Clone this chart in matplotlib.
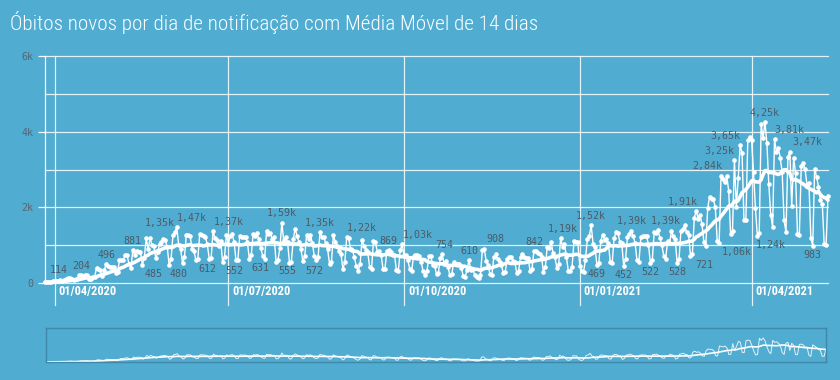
import matplotlib
matplotlib.use('Agg')
import matplotlib.pyplot as plt
import matplotlib.transforms as mtransforms
from matplotlib import font_manager
from matplotlib.font_manager import FontProperties
import pandas as pd

# óbitos novos por dia (Brasil), a partir de 27/03/2020
start_date = '2020-03-27'
deaths = [
    15, 22,
    22, 23, 42, 40, 58, 60, 73,              # 29/03
    54, 67, 114, 133, 141, 115, 68,          # 05/04
    99, 105, 204, 204, 188, 217, 206,        # 12/04
    115, 113, 166, 165, 407, 357, 346,       # 19/04
    189, 338, 496, 449, 435, 428, 421,       # 26/04
    275, 296, 600, 615, 610, 751, 730,       # 03/05
    496, 396, 881, 749, 844, 824, 816,       # 10/05
    485, 674, 1179, 888, 1188, 1001, 965,    # 17/05
    653, 807, 1039, 1086, 1156, 1124, 956,   # 24/05
    480, 623, 1262, 1349, 1473, 1005, 904,   # 31/05
    525, 679, 1272, 1274, 1239, 909, 843,    # 07/06
    612, 627, 1282, 1269, 1238, 1206, 1022,  # 14/06
    641, 654, 1374, 1185, 1141, 990, 1109,   # 21/06
    552, 692, 1280, 1038, 1252, 1290, 1091,  # 28/06
    602, 620, 1254, 1223, 1220, 1214, 1071,  # 05/07
    631, 733, 1300, 1233, 1322, 1163, 921,   # 12/07
    716, 632, 1367, 1284, 1311, 1156, 1211,  # 19/07
    555, 614, 921, 1595, 1129, 1212, 1088,   # 26/07
    541, 561, 1154, 1437, 1237, 1079, 905,   # 02/08
    572, 703, 1274, 1175, 1262, 1060, 709,   # 09/08
    620, 684, 1352, 1212, 1204, 1054, 892,   # 16/08
    494, 565, 1271, 1085, 984, 855, 758,     # 23/08
    366, 553, 1215, 1184, 888, 863, 682,     # 30/08
    447, 310, 504, 1136, 983, 874, 814,      # 06/09
    415, 381, 1113, 1075, 829, 858, 739,     # 13/09
    377, 377, 836, 869, 831, 729, 748,       # 20/09
    335, 317, 863, 1031, 729, 728, 599,      # 27/09
    366, 322, 709, 734, 730, 720, 543,       # 04/10
    309, 201, 311, 706, 713, 485, 461,       # 11/10
    230, 271, 664, 754, 497, 571, 432,       # 18/10
    201, 231, 549, 510, 496, 510, 395,       # 25/10
    190, 162, 342, 610, 335, 368, 215,       # 01/11
    154, 127, 201, 870, 908, 589, 470,       # 08/11
    241, 216, 676, 754, 639, 559, 465,       # 15/11
    274, 302, 630, 698, 691, 587, 554,       # 22/11
    272, 317, 697, 755, 694, 674, 664,       # 29/11
    313, 376, 842, 836, 797, 770, 686,       # 06/12
    279, 433, 964, 936, 1092, 795, 683,      # 13/12
    400, 491, 1194, 963, 1041, 694, 325,     # 20/12
    314, 431, 1111, 1074, 1075, 462, 314,    # 27/12
    293, 620, 1171, 1242, 1524, 1035, 960,   # 03/01
    469, 536, 1110, 1274, 1131, 1151, 1050,  # 10/01
    551, 530, 1183, 1340, 1316, 1096, 1054,  # 17/01
    452, 627, 1214, 1283, 1386, 1235, 1050,  # 24/01
    595, 549, 1209, 1239, 1232, 1239, 1010,  # 31/01
    522, 617, 1350, 1330, 1390, 1189, 1000,  # 07/02
    713, 639, 1109, 1045, 1367, 1254, 1155,  # 14/02
    528, 639, 1386, 1428, 1541, 1337, 1275,  # 21/02
    721, 778, 1726, 1910, 1699, 1800, 1555,  # 28/02
    1086, 987, 1972, 2286, 2233, 2216, 1997, # 07/03
    1111, 1060, 2841, 2736, 2659, 2815, 2438,  # 14/03
    1290, 1383, 3251, 2009, 2777, 3650, 3438,  # 21/03
    1656, 1660, 3780, 3869, 3769, 2922, 1987,  # 28/03
    1240, 1319, 4195, 3829, 4249, 3693, 2616,  # 04/04
    1803, 1480, 3808, 3459, 3560, 3305, 2929,  # 11/04
    1657, 1347, 3321, 3472, 2027, 3305, 2914,  # 18/04
    1305, 1279, 3086, 3163, 3001, 2595, 2656,  # 25/04
    1202, 983, 3025, 2811, 2550, 2202, 2091,   # 02/05
    1024, 1004, 2311,                          # 09/05
]
assert len(deaths) == 411, len(deaths)

# rótulos de pico (acima) e de vale (abaixo): data onde aparece o rótulo, valor
top_label_dates = ['2020-04-03', '2020-04-15', '2020-04-28', '2020-05-12', '2020-05-26',
                   '2020-06-12', '2020-07-01', '2020-07-29', '2020-08-18', '2020-09-09',
                   '2020-09-23', '2020-10-08', '2020-10-22', '2020-11-04', '2020-11-18',
                   '2020-12-08', '2020-12-23', '2021-01-07', '2021-01-28', '2021-02-15',
                   '2021-02-24', '2021-03-09', '2021-03-15', '2021-03-18', '2021-04-08',
                   '2021-04-21', '2021-04-30']
top_label_values = [114, 204, 496, 881, 1349, 1473, 1374, 1595, 1352, 1215, 869, 1031, 754,
                    610, 908, 842, 1194, 1524, 1386, 1390, 1910, 2841, 3251, 3650, 4249,
                    3808, 3472]
low_label_dates = ['2020-05-23', '2020-06-05', '2020-06-20', '2020-07-04', '2020-07-18',
                   '2020-08-01', '2020-08-15', '2021-01-10', '2021-01-24', '2021-02-07',
                   '2021-02-21', '2021-03-07', '2021-03-24', '2021-04-11', '2021-05-03']
low_label_values = [485, 480, 612, 552, 631, 555, 572, 469, 452, 522, 528, 721, 1060, 1240, 983]

tick_dates = ['2020-04-01', '2020-07-01', '2020-10-01', '2021-01-01', '2021-04-01']
tick_labels = ['01/04/2020', '01/07/2020', '01/10/2020', '01/01/2021', '01/04/2021']
y_ticks = [0, 2000, 4000, 6000]
y_tick_labels = ['0', '2k', '4k', '6k']

title = 'Óbitos novos por dia de notificação com Média Móvel de 14 dias'

BG = '#50acd1'
LABEL_C = '#4a5c68'
MONO = 'DejaVu Sans Mono'


def pick_font(bold):
    # procura uma fonte estreita (condensed/narrow) instalada
    prefs = ['Roboto Condensed', 'Liberation Sans Narrow', 'DejaVu Sans Condensed',
             'Open Sans Condensed', 'Noto Sans Condensed']
    found = []
    for f in font_manager.fontManager.ttflist:
        nm = (f.name + ' ' + str(f.fname)).lower()
        if not ('condensed' in nm or 'narrow' in nm or f.stretch in ('condensed', 'semi-condensed')):
            continue
        if 'italic' in nm or 'oblique' in nm or f.style != 'normal':
            continue
        w = f.weight if isinstance(f.weight, int) else 400
        is_bold = w >= 600
        if is_bold != bold:
            continue
        rank = len(prefs)
        for i, p in enumerate(prefs):
            if p.lower().split()[0] in nm:
                rank = i
                break
        light_bonus = 0 if (bold or 300 <= w <= 400) else 1
        found.append((rank, light_bonus, abs(w - (700 if bold else 300)), f.fname))
    if found:
        found.sort()
        return FontProperties(fname=found[0][3])
    return FontProperties(family='Roboto', weight='bold' if bold else 'light')


def fmt(v):
    if v < 1000:
        return str(v)
    return f'{v / 1000:.2f}'.replace('.', ',') + 'k'


dates = pd.date_range(start_date, periods=len(deaths), freq='D')
serie = pd.Series(deaths, index=dates)
media = serie.rolling(14, min_periods=1).mean()

fig = plt.figure(figsize=(8.4, 3.8), dpi=100, facecolor=BG)
W, H = 840, 380
ax = fig.add_axes([45 / W, 97 / H, 783 / W, 227 / H], facecolor=BG)

for v in range(0, 7000, 1000):
    ax.axhline(v, color='white', lw=0.9, alpha=0.85, zorder=1, clip_on=False)
for d in tick_dates:
    ax.axvline(pd.Timestamp(d), ymin=-22 / 227, ymax=1, color='white', lw=0.9,
               alpha=0.85, zorder=1, clip_on=False)

ax.plot(dates, serie.values, color='white', lw=1.0, marker='o', ms=2.3, zorder=3,
        clip_on=False)
ax.plot(dates, media.values, color='white', lw=2.6, zorder=4, solid_capstyle='round',
        clip_on=False)

for d, v in zip(top_label_dates, top_label_values):
    ax.annotate(fmt(v), xy=(pd.Timestamp(d), v), xytext=(0, 3), textcoords='offset points',
                ha='center', va='bottom', fontsize=7.2, family=MONO, color=LABEL_C, zorder=5)
for d, v in zip(low_label_dates, low_label_values):
    ax.annotate(fmt(v), xy=(pd.Timestamp(d), v), xytext=(0, -3), textcoords='offset points',
                ha='center', va='top', fontsize=7.2, family=MONO, color=LABEL_C, zorder=5)

ax.set_xlim(dates[0], dates[-1])
ax.set_ylim(0, 6000)
ax.set_yticks(y_ticks)
ax.set_yticklabels(y_tick_labels, family=MONO, fontsize=7.2, color='#566873')
ax.tick_params(axis='y', length=5, width=0.9, color='white', pad=3.5)
ax.set_xticks([])
for name, sp in ax.spines.items():
    sp.set_visible(name == 'left')
ax.spines['left'].set_color('white')
ax.spines['left'].set_linewidth(0.9)

renderer = fig.canvas.get_renderer()


def fit_width(txt, target_px):
    w = txt.get_window_extent(renderer).width
    txt.set_fontsize(txt.get_fontsize() * target_px / w)


bold_fp = pick_font(True)
base = ax.get_xaxis_transform()
off = mtransforms.ScaledTranslation(4 / 100, -9 / 100, fig.dpi_scale_trans)
xt = []
for d, lab in zip(tick_dates, tick_labels):
    t = ax.text(pd.Timestamp(d), 0, lab, transform=base + off, ha='left', va='center',
                fontproperties=bold_fp, fontsize=9, color='white')
    if bold_fp.get_family() == ['Roboto']:
        t.set_fontweight('bold')
    xt.append(t)
fit_width(xt[0], 58)
for t in xt[1:]:
    t.set_fontsize(xt[0].get_fontsize())

# navegador
nav = fig.add_axes([46 / W, 18 / H, 780 / W, 34 / H], facecolor=BG)
nav.plot(dates, serie.values, color='white', lw=0.7, alpha=0.85)
nav.plot(dates, media.values, color='white', lw=1.2)
nav.set_xlim(dates[0], dates[-1])
nav.set_ylim(0, 6000)
nav.set_xticks([])
nav.set_yticks([])
for sp in nav.spines.values():
    sp.set_color('#3f88aa')
    sp.set_linewidth(1)

title_t = fig.text(10 / W, 1 - 23 / H, title, ha='left', va='center',
                   fontproperties=pick_font(False), fontsize=14, color='white')
fit_width(title_t, 530)

fig.savefig('out.png', dpi=100, facecolor=BG)
